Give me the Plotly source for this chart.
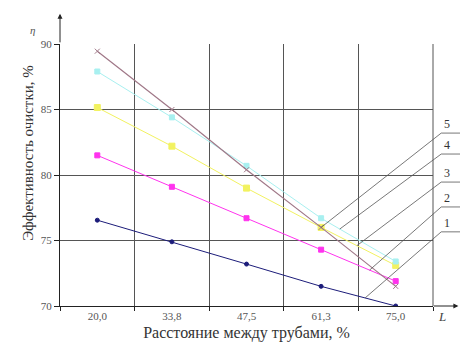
import plotly.graph_objects as go

categories = ["20,0", "33,8", "47,5", "61,3", "75,0"]
s1 = [76.55, 74.9, 73.2, 71.5, 70.0]
s2 = [81.5, 79.1, 76.7, 74.3, 71.9]
s3 = [85.15, 82.2, 79.0, 76.0, 73.1]
s4 = [87.9, 84.4, 80.7, 76.7, 73.4]
s5 = [89.45, 85.0, 80.4, 76.0, 71.5]
series_labels = ["1", "2", "3", "4", "5"]
y_ticks = [70, 75, 80, 85, 90]

FONT = "Liberation Serif"
styles = [
    dict(color="#1c1c7a", symbol="circle", size=4, lw=1),
    dict(color="#ff33ee", symbol="square", size=5, lw=1),
    dict(color="#f2f260", symbol="square", size=6, lw=1),
    dict(color="#a8f0f0", symbol="square", size=5, lw=1),
    dict(color="#a07888", symbol="x-thin-open", size=5, lw=1.2),
]
all_series = [s1, s2, s3, s4, s5]

fig = go.Figure()
for vals, st, name in zip(all_series, styles, series_labels):
    fig.add_trace(go.Scatter(
        x=categories, y=vals, mode="lines+markers", name=name,
        line=dict(color=st["color"], width=st["lw"]),
        marker=dict(color=st["color"], symbol=st["symbol"], size=st["size"],
                    line=dict(color=st["color"], width=1)),
        showlegend=False,
    ))

# leader lines from labels to curves
anchors = [(0, 3, 0.59), (1, 3, 0.65), (2, 3, 0.48), (3, 3, 0.25), (4, 3, 0.0)]
label_y = [0.283, 0.378, 0.473, 0.58, 0.66]
label_x0 = 1.022
label_x1 = 1.075
for (si, i, f), ly, lab in zip(anchors, label_y, series_labels):
    vals = all_series[si]
    xv = i + f
    yv = vals[i] + (vals[i + 1] - vals[i]) * f
    px = (xv + 0.5) / len(categories)
    py = (yv - 70) / 20
    fig.add_shape(type="line", xref="paper", yref="paper",
                  x0=px, y0=py, x1=label_x0, y1=ly,
                  line=dict(color="#555555", width=0.8))
    fig.add_shape(type="line", xref="paper", yref="paper",
                  x0=label_x0, y0=ly, x1=label_x1, y1=ly,
                  line=dict(color="#555555", width=0.8))
    fig.add_annotation(xref="paper", yref="paper", x=1.05, y=ly,
                       yanchor="bottom", text=lab, showarrow=False,
                       font=dict(family=FONT, size=12, color="#333333"))

# right border of plot area
fig.add_shape(type="line", xref="paper", yref="paper", x0=1, y0=0, x1=1, y1=1,
              line=dict(color="#555555", width=1))

# axis arrows
fig.add_annotation(xref="paper", yref="paper", x=0, y=1.115, ax=0, ay=30,
                   showarrow=True, arrowhead=2, arrowsize=1, arrowwidth=1,
                   arrowcolor="#222222", text="")
fig.add_annotation(xref="paper", yref="paper", x=1.068, y=0, ax=-26, ay=0,
                   showarrow=True, arrowhead=2, arrowsize=1, arrowwidth=1,
                   arrowcolor="#222222", text="")
fig.add_annotation(xref="paper", yref="paper", x=-0.086, y=1.083,
                   text="<i>η</i>", showarrow=False,
                   font=dict(family=FONT, size=11, color="#555555"))
fig.add_annotation(xref="paper", yref="paper", x=1.04, y=-0.075,
                   text="<i>L</i>", showarrow=False,
                   font=dict(family=FONT, size=13, color="#444444"))
# y-axis title (placed as in reference, slightly above centre)
fig.add_annotation(xref="paper", yref="paper", x=-0.113, y=0.584,
                   text="Эффективность очистки, %", textangle=-90,
                   showarrow=False,
                   font=dict(family=FONT, size=15, color="#333333"))

fig.update_layout(
    width=460, height=354,
    margin=dict(l=60, r=27, t=44, b=48),
    paper_bgcolor="white", plot_bgcolor="white",
    font=dict(family=FONT, color="#333333"),
    xaxis=dict(
        type="category", tickson="boundaries", range=[-0.5, 4.5],
        showgrid=True, gridcolor="#555555", gridwidth=1,
        showline=True, linecolor="#222222", linewidth=1,
        ticks="outside", ticklen=4, tickcolor="#222222",
        tickfont=dict(family=FONT, size=11, color="#555555"),
        title=dict(text="Расстояние между трубами, %", standoff=5,
                   font=dict(family=FONT, size=16, color="#333333")),
    ),
    yaxis=dict(
        range=[70, 90], tickvals=y_ticks, ticktext=[str(v) for v in y_ticks],
        showgrid=True, gridcolor="#555555", gridwidth=1,
        showline=True, linecolor="#222222", linewidth=1, mirror=False,
        ticks="outside", ticklen=5, tickcolor="#222222",
        tickfont=dict(family=FONT, size=11, color="#555555"),
        zeroline=False,
    ),
)

fig.write_html("out.html")
